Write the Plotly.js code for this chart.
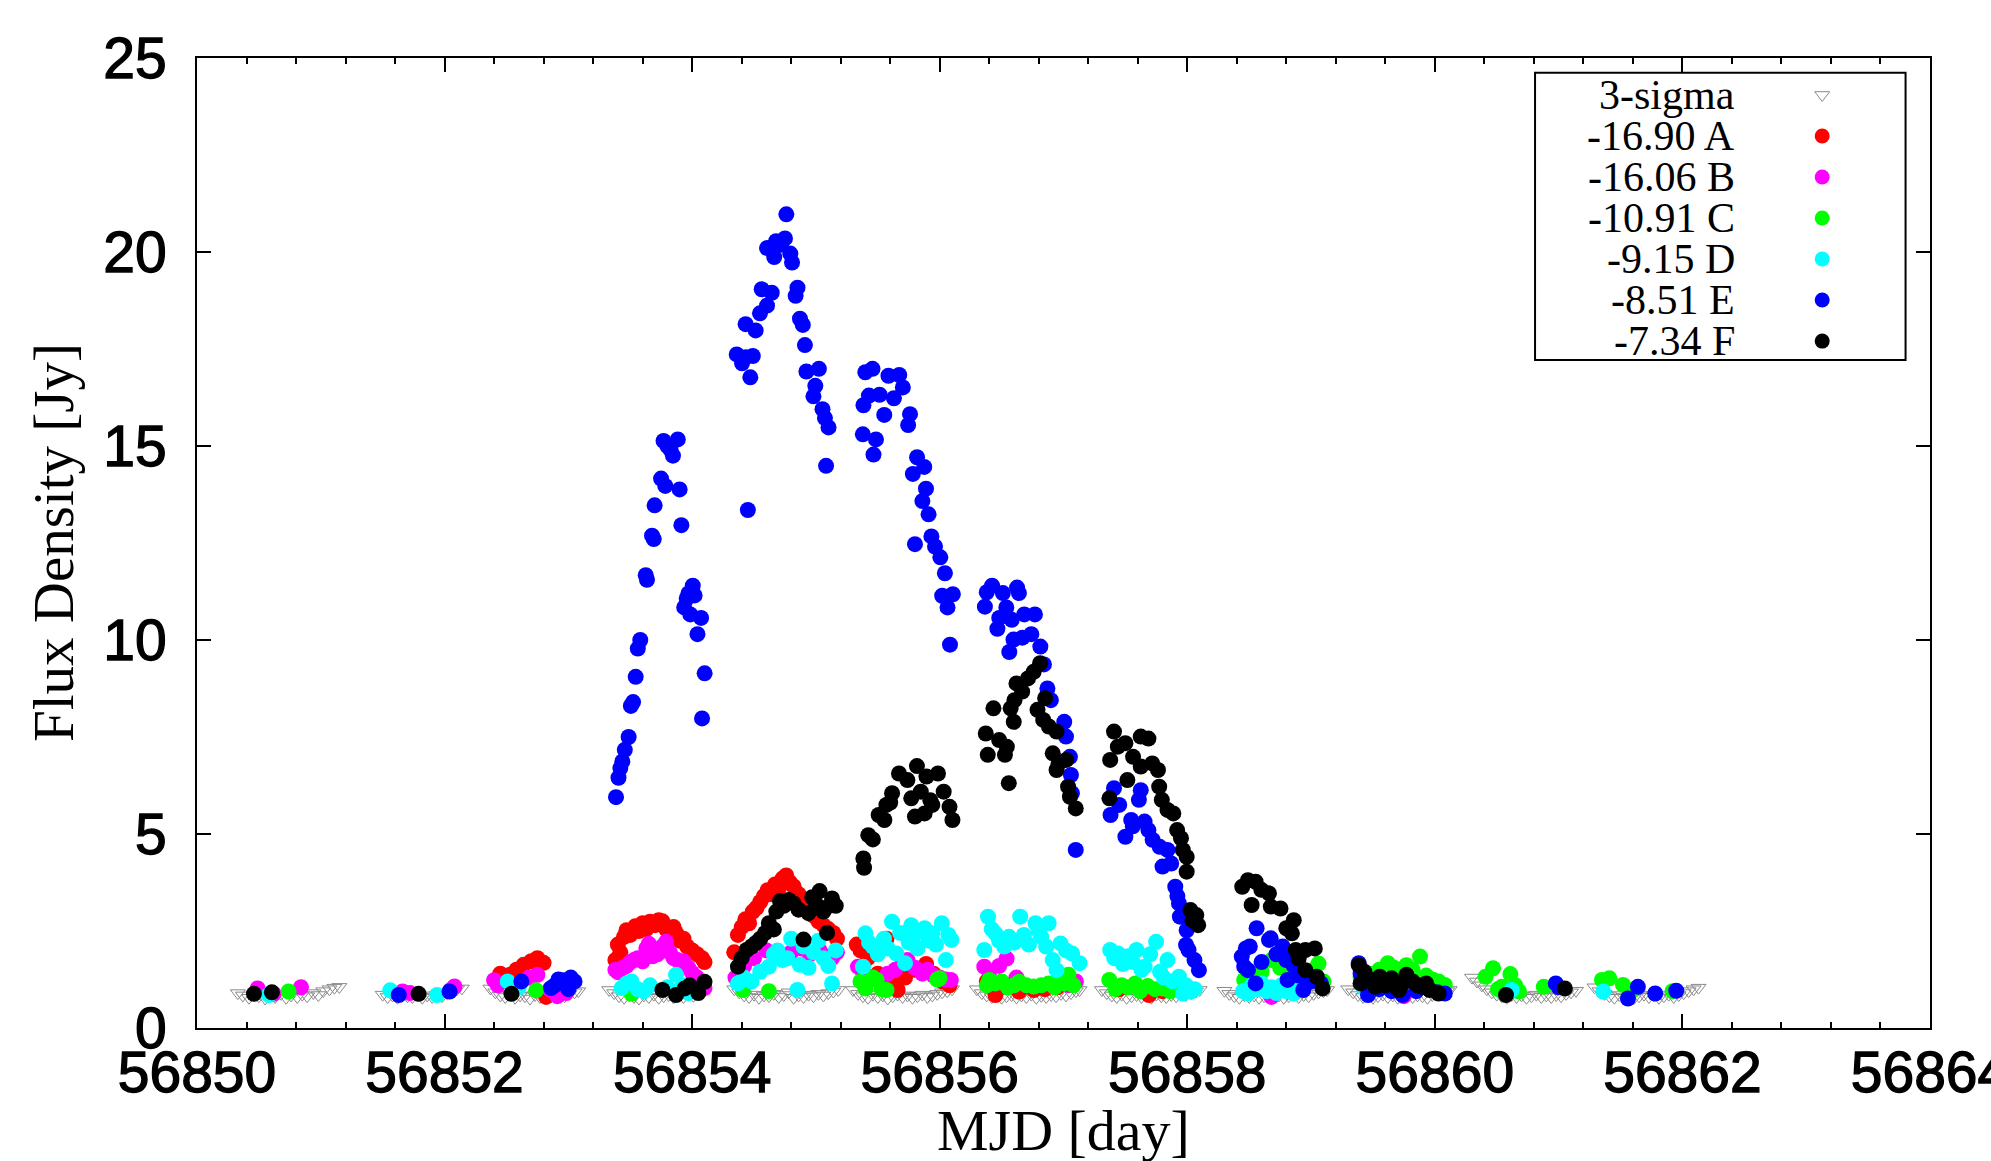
<!DOCTYPE html>
<html><head><meta charset="utf-8">
<script src="https://cdn.plot.ly/plotly-3.0.1.min.js"></script>
<style>html,body{margin:0;padding:0;background:#fff;}#chart{width:1991px;height:1161px;}
.xtick text,.ytick text{stroke:#000;stroke-width:1.3px;}</style>
</head><body><div id="chart"></div>
<script>
// ---- 3-sigma upper limits (open down triangles) ----
const sigmaMjd = [
56850.33,56850.37,56850.42,56850.46,56850.50,56850.55,56850.59,56850.63,56850.68,56850.72,56850.76,56850.81,56850.85,56850.89,56850.94,56850.98,56851.02,56851.07,56851.11,56851.15,
56851.50,56851.54,56851.58,56851.62,56851.66,56851.70,56851.74,56851.78,56851.82,56851.86,56851.90,56851.94,56851.98,56852.02,56852.06,56852.10,56852.14,
56852.37,56852.41,56852.45,56852.49,56852.53,56852.57,56852.61,56852.65,56852.69,56852.73,56852.77,56852.81,56852.85,56852.89,56852.93,56852.97,56853.01,56853.05,56853.08,
56853.33,56853.37,56853.41,56853.45,56853.49,56853.53,56853.57,56853.61,56853.65,56853.69,56853.73,56853.77,56853.81,56853.85,56853.89,56853.93,56853.97,56854.01,56854.05,56854.09,
56854.34,56854.38,56854.42,56854.46,56854.50,56854.54,56854.58,56854.62,56854.66,56854.70,56854.74,56854.78,56854.82,56854.86,56854.90,56854.94,56854.98,56855.02,56855.06,56855.10,56855.14,56855.18,
56855.30,56855.34,56855.38,56855.42,56855.46,56855.50,56855.54,56855.58,56855.62,56855.66,56855.70,56855.74,56855.78,56855.82,56855.86,56855.90,56855.94,56855.98,56856.02,56856.06,56856.10,
56856.30,56856.34,56856.38,56856.42,56856.46,56856.50,56856.54,56856.58,56856.62,56856.66,56856.70,56856.74,56856.78,56856.82,56856.86,56856.90,56856.94,56856.98,56857.02,56857.06,56857.10,56857.13,
56857.31,56857.35,56857.39,56857.43,56857.47,56857.51,56857.55,56857.59,56857.63,56857.67,56857.71,56857.75,56857.79,56857.83,56857.87,56857.91,56857.95,56857.99,56858.03,56858.07,56858.10,
56858.30,56858.34,56858.38,56858.42,56858.46,56858.50,56858.54,56858.58,56858.62,56858.66,56858.70,56858.74,56858.78,56858.82,56858.86,56858.90,56858.94,56858.98,56859.02,56859.06,56859.10,56859.13,
56859.30,56859.34,56859.38,56859.42,56859.46,56859.50,56859.54,56859.58,56859.62,56859.66,56859.70,56859.74,56859.78,56859.82,56859.86,56859.90,56859.94,56859.98,56860.02,56860.06,56860.10,56860.12,
56860.30,56860.34,56860.38,56860.42,56860.46,56860.50,56860.54,56860.58,56860.62,56860.66,56860.70,56860.74,56860.78,56860.82,56860.86,56860.90,56860.94,56860.98,56861.02,56861.06,56861.10,56861.14,
56861.29,56861.33,56861.37,56861.41,56861.45,56861.49,56861.53,56861.57,56861.61,56861.65,56861.69,56861.73,56861.77,56861.81,56861.85,56861.89,56861.93,56861.97,56862.01,56862.05,56862.09,56862.13
];
const sigmaFlux = [
0.90,0.84,0.78,0.86,0.82,0.76,0.85,0.80,0.88,0.78,0.84,0.80,0.86,0.82,0.90,0.85,0.95,1.00,1.04,1.06,
0.86,0.80,0.84,0.78,0.86,0.82,0.80,0.85,0.78,0.84,0.80,0.86,0.82,0.90,0.95,1.00,1.02,
1.02,0.92,0.84,0.80,0.86,0.78,0.84,0.82,0.76,0.85,0.80,0.78,0.84,0.80,0.86,0.82,0.88,0.92,0.95,
0.98,0.90,0.82,0.78,0.85,0.80,0.76,0.84,0.80,0.86,0.78,0.82,0.85,0.79,0.84,0.80,0.86,0.83,0.90,0.95,
1.00,0.92,0.84,0.80,0.86,0.78,0.84,0.82,0.88,0.80,0.85,0.92,0.78,0.84,0.80,0.86,0.82,0.88,0.84,0.90,0.94,0.98,
0.98,0.88,0.82,0.78,0.86,0.80,0.84,0.76,0.82,0.86,0.80,0.84,0.78,0.82,0.86,0.80,0.84,0.88,0.92,0.95,1.00,
1.00,0.90,0.84,0.80,0.86,0.78,0.82,0.85,0.79,0.84,0.80,0.86,0.78,0.83,0.80,0.85,0.82,0.88,0.84,0.90,0.95,0.98,
0.98,0.90,0.84,0.80,0.86,0.78,0.82,0.85,0.80,0.84,0.78,0.86,0.82,0.80,0.85,0.82,0.88,0.85,0.90,0.94,0.98,
0.96,0.88,0.82,0.78,0.85,0.80,0.84,0.78,0.82,0.86,0.80,0.84,0.78,0.82,0.86,0.80,0.85,0.82,0.88,0.92,0.95,0.98,
1.00,0.92,0.85,0.80,0.84,0.78,0.82,0.86,0.80,0.84,0.78,0.82,0.86,0.80,0.84,0.82,0.78,0.85,0.88,0.92,0.95,0.98,
1.30,1.20,1.10,1.00,0.92,0.86,0.82,0.78,0.85,0.80,0.84,0.78,0.82,0.86,0.80,0.84,0.80,0.85,0.82,0.88,0.92,0.96,
1.05,0.95,0.88,0.82,0.78,0.85,0.80,0.84,0.78,0.82,0.86,0.80,0.84,0.78,0.82,0.86,0.80,0.85,0.90,0.95,1.00,1.04
];
// ---- -16.90 A (red) ----
const aMjd = [56852.45,56852.53,56852.58,56852.64,56852.70,56852.75,56852.80,56852.82,56852.88,
56853.38,56853.40,56853.42,56853.45,56853.47,56853.50,56853.54,56853.57,56853.60,56853.63,56853.66,56853.70,56853.73,56853.76,56853.79,56853.83,56853.85,56853.87,56853.90,56853.93,56853.96,56854.00,56854.04,56854.08,56854.10,
56854.34,56854.37,56854.40,56854.43,56854.46,56854.49,56854.52,56854.55,56854.58,56854.61,56854.64,56854.67,56854.70,56854.73,56854.76,56854.79,56854.82,56854.86,56854.90,56854.94,56854.98,56855.02,56855.06,56855.10,56855.14,56855.17,
56855.33,56855.36,56855.42,56855.50,56855.57,56855.62,56855.66,56855.72,56855.80,56855.89,56855.95,56856.02,56856.08,
56856.38,56856.45,56856.55,56856.64,56856.76,56856.85,56856.95,56857.45,56857.69,56857.80];
const aFlux = [1.40,1.37,1.50,1.63,1.72,1.80,1.68,0.80,0.95,
1.75,2.15,1.95,2.35,2.52,2.40,2.62,2.50,2.70,2.55,2.74,2.65,2.78,2.75,2.55,2.40,2.60,2.45,2.25,2.30,2.10,2.00,1.90,1.80,1.70,
1.95,2.40,2.60,2.80,2.70,3.00,3.10,3.25,3.40,3.55,3.45,3.70,3.60,3.85,3.93,3.75,3.65,3.45,3.25,3.05,2.90,2.75,2.65,2.55,2.45,2.30,
2.15,2.00,1.80,1.40,2.30,1.20,0.98,1.30,1.50,1.65,1.40,1.20,1.10,
1.20,0.85,1.10,0.94,0.98,1.00,1.05,1.00,0.85,0.95];
// ---- -16.06 B (magenta) ----
const bMjd = [56850.49,56850.62,56850.84,56851.66,56851.72,56852.05,56852.08,
56852.40,56852.43,56852.68,56852.75,56852.85,56852.91,56852.98,
56853.38,56853.40,56853.44,56853.47,56853.50,56853.53,56853.56,56853.60,56853.63,56853.65,56853.68,56853.72,56853.76,56853.79,56853.82,56853.85,56853.88,56853.93,56853.97,56854.00,56854.04,56854.07,56854.10,
56854.35,56854.42,56854.50,56854.60,56854.70,56854.80,56854.88,56854.95,56855.03,56855.08,56855.13,56855.17,
56855.34,56855.38,56855.45,56855.52,56855.58,56855.64,56855.70,56855.74,56855.80,56855.86,56855.90,56855.95,56856.00,56856.05,56856.09,
56856.36,56856.40,56856.48,56856.54,56856.62,56857.05,56857.10,56857.90,56858.68,56859.75];
const bFlux = [1.02,0.88,1.05,0.94,0.90,0.98,1.07,
1.23,1.10,1.30,1.37,1.00,0.82,0.90,
1.50,1.44,1.55,1.60,1.70,1.75,1.80,1.72,2.05,2.17,1.85,1.90,2.10,2.22,1.95,1.80,1.75,1.72,1.55,1.42,1.30,1.15,1.03,
1.30,1.60,1.80,2.00,1.85,1.95,2.05,1.90,2.00,1.85,1.80,1.95,
1.58,1.45,1.30,1.20,1.40,1.50,1.65,1.75,1.55,1.40,1.50,1.35,1.30,1.25,1.24,
1.58,1.45,1.60,1.79,1.30,1.10,1.20,1.00,0.80,0.82];
// ---- -10.91 C (green) ----
const cMjd = [56850.74,56852.74,56853.51,56854.41,56854.62,
56855.36,56855.40,56855.46,56855.49,56855.53,56855.57,56855.98,56856.00,
56856.38,56856.40,56856.45,56856.50,56856.55,56856.60,56856.64,56856.70,56856.76,56856.82,56856.88,56856.93,56856.96,56857.00,56857.04,56857.08,
56857.37,56857.42,56857.47,56857.52,56857.58,56857.62,56857.68,56857.74,56857.80,56857.86,56857.93,
56858.46,56858.52,56858.60,56858.68,56858.75,56858.82,56858.88,56858.95,56859.02,56859.06,56859.10,
56859.40,56859.48,56859.55,56859.62,56859.67,56859.72,56859.77,56859.82,56859.88,56859.93,56859.98,56860.03,56860.08,
56860.41,56860.47,56860.51,56860.54,56860.61,56860.65,56860.68,56860.88,
56861.35,56861.41,56861.52,56861.60,56861.92];
const cFlux = [0.94,0.97,0.88,0.98,0.95,
1.20,1.02,1.30,1.24,1.00,0.98,1.25,1.28,
1.10,1.24,1.15,1.20,1.05,1.10,1.19,1.10,1.07,1.10,1.15,1.05,1.24,1.15,1.37,1.10,
1.24,1.00,1.10,1.05,1.15,0.95,1.08,1.00,1.02,0.95,1.02,
1.24,1.35,1.45,1.75,1.55,1.60,1.45,1.30,1.50,1.66,1.20,
1.30,1.40,1.50,1.67,1.55,1.45,1.62,1.50,1.84,1.35,1.25,1.20,1.11,
1.32,1.54,1.00,1.06,1.39,1.10,0.94,1.06,
1.24,1.28,1.11,0.98,0.95];
// ---- -9.15 D (cyan) ----
const dMjd = [56850.58,56851.56,56851.94,56852.51,56852.60,
56853.43,56853.47,56853.51,56853.56,56853.61,56853.66,56853.80,56853.87,56853.92,56853.97,
56854.37,56854.42,56854.48,56854.55,56854.62,56854.66,56854.69,56854.73,56854.77,56854.80,56854.85,56854.87,56854.90,56854.94,56854.98,56855.02,56855.06,56855.10,56855.13,56855.16,
56855.38,56855.40,56855.43,56855.46,56855.50,56855.55,56855.58,56855.615,56855.65,56855.68,56855.72,56855.75,56855.77,56855.785,56855.82,56855.85,56855.878,56855.91,56855.94,56855.97,56856.017,56856.05,56856.07,56856.094,
56856.36,56856.39,56856.42,56856.45,56856.48,56856.52,56856.56,56856.60,56856.65,56856.68,56856.72,56856.774,56856.80,56856.82,56856.86,56856.88,56856.913,56856.944,56856.976,56857.02,56857.07,56857.13,
56857.377,56857.41,56857.44,56857.48,56857.52,56857.56,56857.59,56857.63,56857.655,56857.70,56857.748,56857.78,56857.81,56857.84,56857.88,56857.933,56857.964,56857.99,56858.03,56858.06,
56858.45,56858.49,56858.52,56858.56,56858.60,56858.64,56858.68,56858.72,56858.76,56858.80,56858.86,56858.90,
56859.42,56859.48,56860.62,56861.36];
const dFlux = [0.85,0.97,0.85,1.20,1.05,
1.03,1.15,1.20,1.00,0.95,1.10,1.05,1.37,1.10,0.90,
1.15,1.30,1.20,1.45,1.58,1.90,2.00,1.75,1.80,2.30,0.98,1.63,2.10,1.55,1.95,2.25,1.80,1.60,1.15,2.00,
1.58,2.44,2.20,2.10,1.90,2.30,2.05,2.74,1.92,2.45,1.67,2.20,2.65,2.35,2.05,2.50,2.57,2.25,2.44,2.15,2.70,1.75,2.40,2.27,
2.01,2.87,2.55,2.44,2.25,2.10,2.35,2.20,2.87,2.40,2.15,2.70,2.50,2.35,2.10,2.70,1.75,1.49,2.18,2.00,1.92,1.67,
2.01,1.80,1.92,1.65,1.85,1.70,2.01,1.50,1.58,1.90,2.22,1.45,1.30,1.75,1.20,1.32,0.89,1.10,0.94,1.00,
0.95,0.89,1.10,1.00,1.15,0.95,1.05,0.90,1.10,0.95,0.89,1.00,
1.05,0.95,0.98,0.94];
// ---- -8.51 E (blue) ----
const eMjd = [56851.63,56852.04,
56852.62,56852.86,56852.89,56852.92,56852.96,56852.99,56853.00,56853.02,56853.05,
56853.385,56853.405,56853.42,56853.436,56853.456,56853.487,56853.505,56853.523,56853.544,56853.561,56853.581,56853.625,56853.635,56853.676,56853.69,56853.697,56853.749,56853.769,56853.783,56853.80,56853.826,56853.845,56853.884,56853.899,56853.913,56853.936,56853.956,56853.97,56853.985,56854.005,56854.02,56854.043,56854.072,56854.08,56854.101,
56854.36,56854.403,56854.432,56854.45,56854.47,56854.49,56854.432,56854.513,56854.548,56854.562,56854.605,56854.605,56854.643,56854.663,56854.678,56854.72,56854.75,56854.761,56854.793,56854.807,56854.836,56854.851,56854.871,56854.894,56854.911,56854.923,56854.98,56854.995,56855.024,56855.053,56855.073,56855.082,56855.102,
56855.379,56855.384,56855.399,56855.428,56855.457,56855.465,56855.485,56855.514,56855.552,56855.586,56855.63,56855.673,56855.702,56855.745,56855.76,56855.783,56855.80,56855.817,56855.86,56855.875,56855.889,56855.91,56855.933,56855.962,56856.005,56856.02,56856.042,56856.063,56856.083,56856.106,
56856.365,56856.38,56856.423,56856.466,56856.481,56856.51,56856.538,56856.562,56856.582,56856.596,56856.625,56856.64,56856.668,56856.683,56856.74,56856.769,56856.813,56856.842,56856.87,56856.898,56857.006,56857.02,56857.052,56857.06,56857.068,56857.099,
56857.38,56857.408,56857.45,56857.50,56857.547,56857.56,56857.609,56857.624,56857.655,56857.686,56857.72,56857.777,56857.80,56857.84,56857.87,56857.903,56857.92,56857.933,56857.94,56857.995,56857.99,56858.01,56858.058,56858.094,
56858.44,56858.46,56858.473,56858.49,56858.505,56858.552,56858.56,56858.60,56858.66,56858.674,56858.72,56858.77,56858.80,56858.81,56858.86,56858.90,56858.937,56858.954,56859.00,56859.08,
56859.385,56859.40,56859.46,56859.55,56859.65,56859.74,56859.85,56859.95,56860.02,56860.08,
56860.977,56861.00,56861.56,56861.64,56861.78,56861.95];
const eFlux = [0.85,0.94,
1.20,1.03,1.10,1.25,1.23,1.15,1.00,1.30,1.20,
5.95,6.45,6.70,6.87,7.17,7.50,8.30,8.40,9.05,9.78,10.00,11.67,11.55,12.69,12.60,13.47,14.16,15.13,13.97,15.00,14.90,14.75,15.17,13.88,12.96,10.84,11.07,11.20,10.66,11.40,11.15,10.15,10.57,7.98,9.14,
17.36,17.13,17.29,13.35,16.77,17.32,18.14,17.98,18.42,19.04,18.62,20.10,18.95,19.87,20.28,20.19,20.35,20.97,19.96,19.73,18.87,19.08,18.28,18.12,17.60,16.92,16.28,16.55,16.99,15.95,15.72,14.49,15.48,
15.30,16.05,16.90,16.30,16.99,14.78,15.17,16.32,15.80,16.81,16.23,16.83,16.51,15.54,15.82,14.28,12.47,14.71,13.58,14.46,13.90,13.24,12.67,12.41,12.13,11.14,11.72,10.84,9.88,11.18,
10.86,11.23,11.40,10.29,10.57,11.21,10.84,9.69,10.52,10.01,11.35,11.21,10.06,10.66,10.15,10.66,9.83,9.37,8.75,8.45,7.89,7.51,6.99,6.52,6.05,4.59,
5.49,6.18,5.75,4.93,5.36,5.20,5.88,6.13,5.32,5.10,4.85,4.67,4.16,4.59,4.24,3.64,3.40,3.21,2.87,2.52,2.14,2.01,1.75,1.49,
1.84,1.58,2.05,1.49,2.10,1.15,2.57,1.70,2.27,2.31,1.90,2.10,1.75,1.24,1.60,1.35,0.98,1.41,1.20,1.15,
1.67,1.40,0.85,1.00,0.95,0.85,0.95,1.00,0.92,0.89,
1.15,1.05,0.76,1.06,0.89,0.96];
// ---- -7.34 F (black) ----
const fMjd = [56850.46,56850.605,56851.79,56852.54,
56853.76,56853.87,56853.94,56853.98,56854.05,56854.10,
56854.37,56854.40,56854.44,56854.48,56854.515,56854.55,56854.59,56854.62,56854.66,56854.68,56854.71,56854.74,56854.78,56854.82,56854.86,56854.90,56854.94,56854.97,56855.00,56855.03,56855.06,56855.08,56855.09,56855.13,56855.16,
56855.383,56855.389,56855.423,56855.46,56855.507,56855.553,56855.569,56855.60,56855.615,56855.671,56855.739,56855.77,56855.80,56855.816,56855.847,56855.878,56855.893,56855.924,56855.94,56855.986,56856.032,56856.079,56856.103,
56856.372,56856.388,56856.434,56856.48,56856.527,56856.542,56856.558,56856.573,56856.598,56856.604,56856.62,56856.666,56856.713,56856.759,56856.79,56856.811,56856.836,56856.852,56856.882,56856.913,56856.944,56856.944,56856.96,56857.022,56857.037,56857.052,56857.099,
56857.371,56857.377,56857.408,56857.439,56857.50,56857.516,56857.562,56857.624,56857.624,56857.686,56857.717,56857.763,56857.773,56857.794,56857.84,56857.887,56857.918,56857.949,56857.964,56857.995,56857.995,56858.026,56858.042,56858.073,56858.088,
56858.444,56858.49,56858.52,56858.552,56858.598,56858.66,56858.675,56858.753,56858.80,56858.845,56858.86,56858.876,56858.90,56858.954,56858.954,56859.03,56859.046,56859.093,
56859.385,56859.40,56859.43,56859.46,56859.49,56859.52,56859.555,56859.60,56859.65,56859.69,56859.71,56859.74,56859.77,56859.82,56859.86,56859.895,56859.93,56859.96,56860.03,
56860.575,56861.05];
const fFlux = [0.88,0.92,0.88,0.88,
0.98,0.85,1.02,1.10,0.90,1.19,
1.58,1.80,2.01,2.10,2.19,2.30,2.45,2.70,2.54,3.00,3.27,3.15,3.30,3.21,3.05,2.28,2.96,3.37,3.20,3.53,3.00,3.10,2.45,3.34,3.15,
4.37,4.13,4.97,4.86,5.49,5.36,5.75,5.81,6.05,6.56,6.39,5.92,5.45,6.75,6.09,5.53,6.48,5.87,5.75,6.56,6.09,5.70,5.36,
7.59,7.04,8.24,7.42,7.04,7.25,6.31,8.24,7.89,8.45,8.88,8.67,9.01,9.18,8.20,9.40,7.94,8.50,7.77,7.08,7.64,6.65,6.82,6.91,6.22,5.96,5.66,
5.92,6.91,7.64,7.25,7.34,6.39,6.99,7.51,6.74,7.46,6.82,6.65,6.22,5.88,5.62,5.53,5.10,4.89,4.59,4.41,4.03,3.04,2.78,2.91,2.65,
3.64,3.81,3.17,3.77,3.56,3.47,3.13,3.08,2.57,2.44,2.78,2.01,1.79,2.01,1.49,2.05,1.32,1.02,
1.62,1.15,1.45,1.28,1.20,1.06,1.32,1.10,1.28,1.05,0.98,1.15,1.37,1.20,1.10,1.06,1.15,0.98,0.89,
0.85,1.02];

const seriesNames = ['3-sigma','-16.90 A','-16.06 B','-10.91 C','-9.15 D','-8.51 E','-7.34 F'];
const seriesX = [sigmaMjd,aMjd,bMjd,cMjd,dMjd,eMjd,fMjd];
const seriesY = [sigmaFlux,aFlux,bFlux,cFlux,dFlux,eFlux,fFlux];
const seriesColors = ['#8a8a8a','#ff0000','#ff00ff','#00ff00','#00ffff','#0000ff','#000000'];

const serif = 'Liberation Serif, Times New Roman, serif';
const sans = 'Liberation Sans, Arial, sans-serif';

function markerFor(i, size){
  if(i===0) return {symbol:'triangle-down-open', size:13, color:seriesColors[0], line:{width:1, color:seriesColors[0]}};
  return {symbol:'circle', size:size, color:seriesColors[i], line:{width:0}};
}

const traces = [];
for(let i=0;i<seriesNames.length;i++){
  traces.push({type:'scatter', mode:'markers', x:seriesX[i], y:seriesY[i], name:seriesNames[i],
    marker:markerFor(i,16), hoverinfo:'skip', cliponaxis:true});
}
// legend key markers on an auxiliary invisible subplot
for(let i=0;i<seriesNames.length;i++){
  traces.push({type:'scatter', mode:'markers', x:[0.775], y:[i], xaxis:'x2', yaxis:'y2',
    marker:markerFor(i,15), hoverinfo:'skip', showlegend:false, cliponaxis:false});
}

const annotations = [];
for(let i=0;i<seriesNames.length;i++){
  annotations.push({xref:'x2', yref:'y2', x:0.545, y:i, text:seriesNames[i], showarrow:false,
    xanchor:'right', yanchor:'middle', font:{family:serif, size:42, color:'#000'}});
}
annotations.push({xref:'paper', yref:'paper', x:0.5, y:0, yshift:-102, text:'MJD [day]', showarrow:false,
  xanchor:'center', yanchor:'middle', font:{family:serif, size:58, color:'#000'}});
annotations.push({xref:'paper', yref:'paper', x:0, y:0.5, xshift:-144, text:'Flux Density [Jy]', showarrow:false,
  textangle:-90, xanchor:'center', yanchor:'middle', font:{family:serif, size:57, color:'#000'}});

const axisCommon = {showline:true, linewidth:2, linecolor:'#000', mirror:'ticks', showgrid:false, zeroline:false,
  ticks:'inside', ticklen:14, tickwidth:2, tickcolor:'#000', tickformat:'d', ticklabeloverflow:'allow',
  tickfont:{family:sans, size:57, color:'#000'}};

const layout = {
  width:1991, height:1161,
  margin:{l:197, r:61, t:58, b:133},
  paper_bgcolor:'#ffffff', plot_bgcolor:'#ffffff',
  showlegend:false,
  xaxis:Object.assign({}, axisCommon, {range:[56850,56864], tick0:56850, dtick:2, ticklabelstandoff:-6,
    minor:{tick0:56850, dtick:0.4, ticks:'inside', ticklen:6, tickwidth:2, tickcolor:'#000', showgrid:false}}),
  yaxis:Object.assign({}, axisCommon, {range:[0,25], tick0:0, dtick:5, ticklabelstandoff:17}),
  xaxis2:{domain:[0.7721,0.9859], range:[0,1], anchor:'y2', visible:false, fixedrange:true},
  yaxis2:{domain:[0.6887,0.9849], range:[6.46,-0.544], anchor:'x2', visible:false, fixedrange:true},
  shapes:[{type:'rect', xref:'paper', yref:'paper', x0:0.7721, x1:0.9859, y0:0.6887, y1:0.9849,
    line:{color:'#000', width:2}, fillcolor:'rgba(0,0,0,0)', layer:'above'}],
  annotations:annotations
};

Plotly.newPlot('chart', traces, layout, {staticPlot:true, displayModeBar:false});
</script>
</body></html>
